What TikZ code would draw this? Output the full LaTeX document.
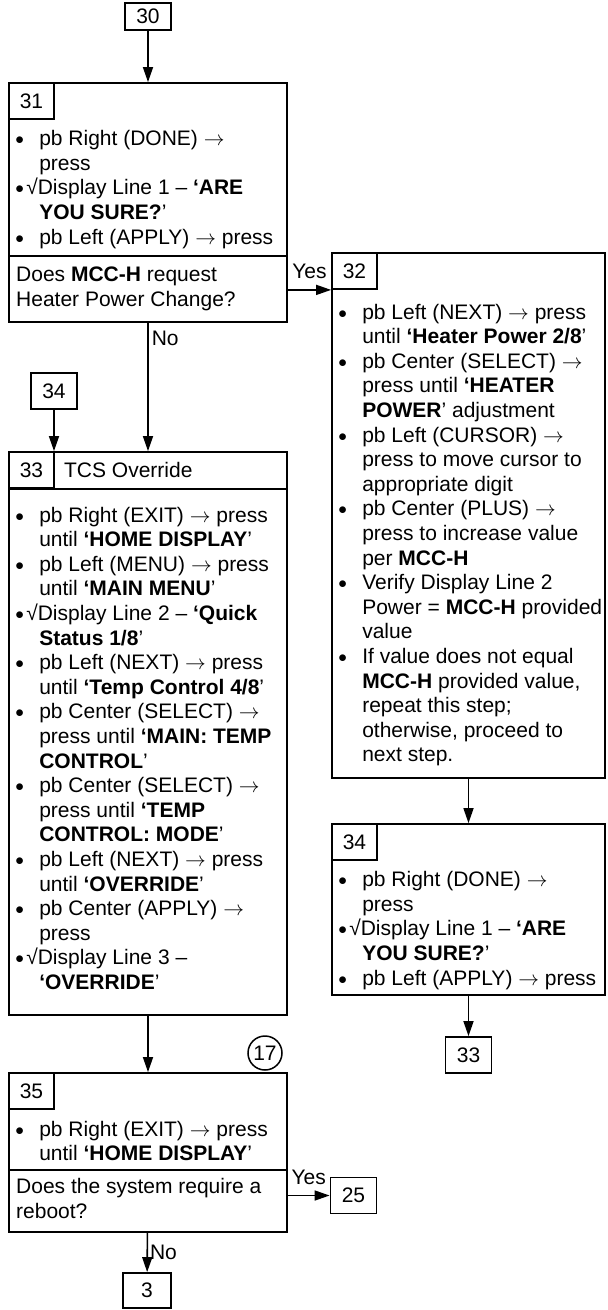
\documentclass[tikz,border=0pt]{standalone}
\usepackage{fontspec}
\setmainfont{Liberation Sans}
\usetikzlibrary{arrows.meta,positioning}
\newcommand{\bmark}{\raisebox{1pt}{\fontsize{17}{17}\selectfont$\bullet$}}
\newcommand{\bdot}{\strut\makebox[24pt][l]{\bmark}}
\newcommand{\bchk}{\strut\makebox[11pt][l]{\bmark}√}
\newcommand{\bcont}{\strut\hspace*{24pt}}
\newcommand{\goes}{$\rightarrow$}
\begin{document}
\begin{tikzpicture}[x=1pt,y=-1pt,
  font=\fontsize{21}{24.6}\selectfont,
  stepbox/.style={draw,line width=1.8pt,inner sep=0pt},
  tab/.style={draw,line width=1.8pt,inner sep=0pt,minimum width=45pt,minimum height=36pt,anchor=north west},
  refbox/.style={draw,line width=1.8pt,inner sep=0pt,minimum width=46pt,minimum height=36pt},
  txt/.style={align=left,inner sep=0pt,anchor=north west},
  ask/.style={align=left,inner sep=0pt,anchor=west},
  flow/.style={-{Triangle[length=15pt,width=10pt]},line width=1.6pt},
  sep/.style={line width=1.8pt}]
\useasboundingbox (0,0) rectangle (608,1310);
% step 31: confirm and ask
\node[refbox,minimum height=27pt] (r30) at (148,16.5) {30};
\node[stepbox,minimum width=278pt,minimum height=239pt] (b31) at (148,202.5) {};
\node[tab] (n31) at (b31.north west) {31};
\node[txt] (t31) at ([shift={(7,8.3)}]n31.south west) {%
\bdot pb Right (DONE) \goes\\
\bcont press\\
\bchk Display Line 1 – \textbf{‘ARE}\\
\bcont\textbf{YOU SURE?}’\\
\bdot pb Left (APPLY) \goes{} press};
\coordinate (q31) at (9,256);
\draw[sep] (q31) -- (q31 -| b31.east);
\node[ask] (a31) at (16,289) {\strut Does \textbf{MCC-H} request\\\strut Heater Power Change?};
% step 32: heater power
\node[stepbox,minimum width=273pt,minimum height=525pt] (b32) at (468.5,515.5) {};
\node[tab] (n32) at (b32.north west) {32};
\node[txt] (t32) at ([shift={(7,11.8)}]n32.south west) {%
\bdot pb Left (NEXT) \goes{} press\\
\bcont until \textbf{‘Heater Power 2/8}’\\
\bdot pb Center (SELECT) \goes\\
\bcont press until \textbf{‘HEATER}\\
\bcont\textbf{POWER}’ adjustment\\
\bdot pb Left (CURSOR) \goes\\
\bcont press to move cursor to\\
\bcont appropriate digit\\
\bdot pb Center (PLUS) \goes\\
\bcont press to increase value\\
\bcont per \textbf{MCC-H}\\
\bdot Verify Display Line 2\\
\bcont Power = \textbf{MCC-H} provided\\
\bcont value\\
\bdot If value does not equal\\
\bcont\textbf{MCC-H} provided value,\\
\bcont repeat this step;\\
\bcont otherwise, proceed to\\
\bcont next step.};
% step 33: override
\node[refbox] (r34a) at (54,391) {34};
\node[stepbox,minimum width=278pt,minimum height=563pt] (b33) at (148,733.5) {};
\node[tab] (n33) at (b33.north west) {33};
\node[right=9pt of n33,inner sep=0pt] (h33) {TCS Override};
\draw[sep] (n33.south west) -- (n33.south west -| b33.east);
\node[txt] (t33) at ([shift={(7,15.8)}]n33.south west) {%
\bdot pb Right (EXIT) \goes{} press\\
\bcont until \textbf{‘HOME DISPLAY}’\\
\bdot pb Left (MENU) \goes{} press\\
\bcont until \textbf{‘MAIN MENU}’\\
\bchk Display Line 2 – \textbf{‘Quick}\\
\bcont\textbf{Status 1/8}’\\
\bdot pb Left (NEXT) \goes{} press\\
\bcont until \textbf{‘Temp Control 4/8}’\\
\bdot pb Center (SELECT) \goes\\
\bcont press until \textbf{‘MAIN: TEMP}\\
\bcont\textbf{CONTROL}’\\
\bdot pb Center (SELECT) \goes\\
\bcont press until \textbf{‘TEMP}\\
\bcont\textbf{CONTROL: MODE}’\\
\bdot pb Left (NEXT) \goes{} press\\
\bcont until \textbf{‘OVERRIDE}’\\
\bdot pb Center (APPLY) \goes\\
\bcont press\\
\bchk Display Line 3 –\\
\bcont\textbf{‘OVERRIDE}’};
% step 34: confirm again
\node[stepbox,minimum width=273pt,minimum height=171pt] (b34) at (468.5,909.5) {};
\node[tab] (n34) at (b34.north west) {34};
\node[txt] (t34) at ([shift={(7,8.3)}]n34.south west) {%
\bdot pb Right (DONE) \goes\\
\bcont press\\
\bchk Display Line 1 – \textbf{‘ARE}\\
\bcont\textbf{YOU SURE?}’\\
\bdot pb Left (APPLY) \goes{} press};
\node[refbox] (r33) at (468.5,1055) {33};
% step 35: exit and reboot check
\node[draw,circle,line width=1.5pt,minimum size=34pt,inner sep=0pt] (c17) at (265,1053) {17};
\node[stepbox,minimum width=278pt,minimum height=159pt] (b35) at (148,1152.5) {};
\node[tab] (n35) at (b35.north west) {35};
\node[txt] (t35) at ([shift={(7,8.8)}]n35.south west) {%
\bdot pb Right (EXIT) \goes{} press\\
\bcont until \textbf{‘HOME DISPLAY}’};
\coordinate (q35) at (9,1170);
\draw[sep] (q35) -- (q35 -| b35.east);
\node[ask] (a35) at (16,1201) {\strut Does the system require a\\\strut reboot?};
\node[refbox] (r25) at (353.5,1195.5) {25};
\node[refbox,minimum width=48pt,minimum height=35pt] (r3) at (147,1290.5) {3};
% connectors
\draw[flow] (r30) -- (b31);
\draw[flow] (b31.east |- n32.south) -- node[above=10pt,inner sep=0pt] {Yes} (n32.south west);
\draw[flow] (b31) -- node[pos=0.12,right,inner sep=3pt] {No} (b33);
\draw[flow] (r34a) -- (r34a |- b33.north);
\draw[flow] (b32) -- (b34);
\draw[flow] (b34) -- (r33);
\draw[flow] (b33) -- (b35);
\draw[flow] (b35.east |- r25) -- node[above=10pt,inner sep=0pt] {Yes} (r25);
\draw[flow] (b35) -- node[right,inner sep=2pt] {No} (r3);
\end{tikzpicture}
\end{document}
